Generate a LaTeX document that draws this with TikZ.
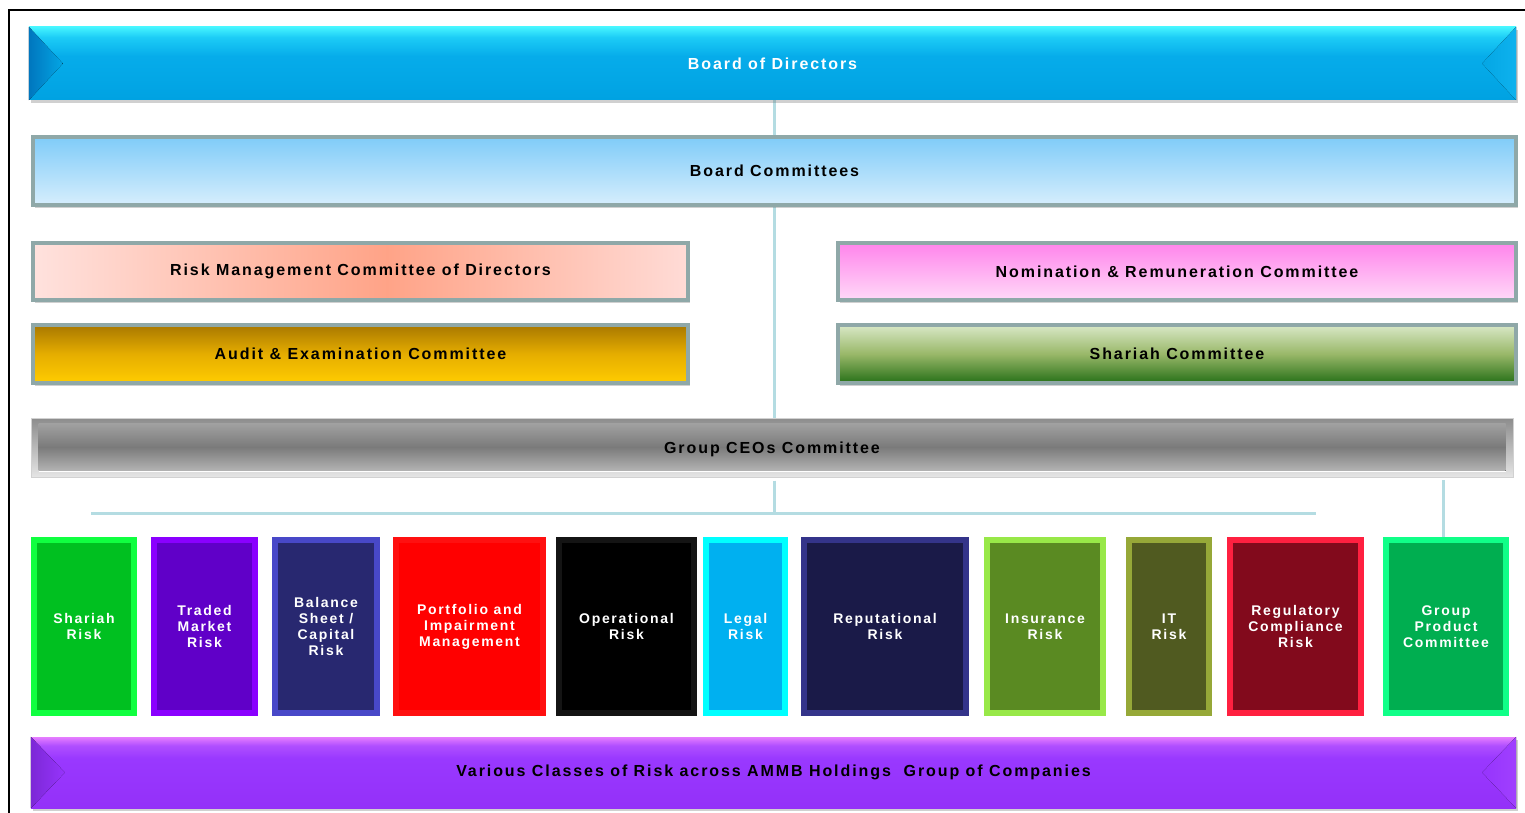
\documentclass[tikz,border=0pt]{standalone}
\usepackage{fontspec}
\setmainfont{Liberation Sans}[LetterSpace=12]
\usetikzlibrary{shadows,backgrounds,calc}

% frame and connector colours
\definecolor{linkC}{HTML}{B4DCE2}
\definecolor{edgeC}{HTML}{8FA8A8}
% risk box colours: frame / face
\definecolor{bShar}{HTML}{10FF40}\definecolor{fShar}{HTML}{00C020}
\definecolor{bTrad}{HTML}{8A00FF}\definecolor{fTrad}{HTML}{6000C8}
\definecolor{bBal}{HTML}{4848C8}\definecolor{fBal}{HTML}{282870}
\definecolor{bPort}{HTML}{FF1010}\definecolor{fPort}{HTML}{FF0000}
\definecolor{bOper}{HTML}{141414}\definecolor{fOper}{HTML}{000000}
\definecolor{bLeg}{HTML}{00FFFF}\definecolor{fLeg}{HTML}{00B0F0}
\definecolor{bRep}{HTML}{34348A}\definecolor{fRep}{HTML}{1A1A48}
\definecolor{bIns}{HTML}{98E848}\definecolor{fIns}{HTML}{5A8A22}
\definecolor{bIT}{HTML}{96A838}\definecolor{fIT}{HTML}{505A20}
\definecolor{bReg}{HTML}{FF2040}\definecolor{fReg}{HTML}{820A1C}
\definecolor{bGPC}{HTML}{10FF88}\definecolor{fGPC}{HTML}{00AE50}

% gradients (the path spans 25bp..75bp of each shading)
\pgfdeclareverticalshading{bodShade}{100bp}{
  rgb(0bp)=(0,0.635,0.886); rgb(25bp)=(0,0.635,0.886); rgb(55bp)=(0.024,0.675,0.918);
  rgb(68bp)=(0.11,0.80,0.965); rgb(75bp)=(0.27,0.957,1); rgb(100bp)=(0.27,0.957,1)}
\pgfdeclareverticalshading{bcShade}{100bp}{
  rgb(0bp)=(0.84,0.933,0.992); rgb(25bp)=(0.84,0.933,0.992);
  rgb(75bp)=(0.5,0.8,0.973); rgb(100bp)=(0.5,0.8,0.973)}
\pgfdeclarehorizontalshading{rmcShade}{100bp}{
  rgb(0bp)=(1,0.886,0.87); rgb(25bp)=(1,0.886,0.87); rgb(52bp)=(1,0.64,0.53);
  rgb(75bp)=(1,0.86,0.84); rgb(100bp)=(1,0.86,0.84)}
\pgfdeclareverticalshading{nrcShade}{100bp}{
  rgb(0bp)=(1,0.85,0.97); rgb(25bp)=(1,0.85,0.97);
  rgb(75bp)=(1,0.52,0.925); rgb(100bp)=(1,0.52,0.925)}
\pgfdeclareverticalshading{aecShade}{100bp}{
  rgb(0bp)=(1,0.8,0); rgb(25bp)=(1,0.8,0); rgb(50bp)=(0.9,0.68,0);
  rgb(75bp)=(0.66,0.47,0); rgb(100bp)=(0.66,0.47,0)}
\pgfdeclareverticalshading{shcShade}{100bp}{
  rgb(0bp)=(0.15,0.44,0.094); rgb(25bp)=(0.15,0.44,0.094); rgb(50bp)=(0.6,0.72,0.41);
  rgb(75bp)=(0.85,0.91,0.78); rgb(100bp)=(0.85,0.91,0.78)}
\pgfdeclareverticalshading{ceoOuter}{100bp}{
  rgb(0bp)=(0.9,0.9,0.9); rgb(25bp)=(0.9,0.9,0.9);
  rgb(75bp)=(0.55,0.55,0.55); rgb(100bp)=(0.55,0.55,0.55)}
\pgfdeclareverticalshading{ceoInner}{100bp}{
  rgb(0bp)=(0.7,0.7,0.7); rgb(25bp)=(0.7,0.7,0.7); rgb(50bp)=(0.48,0.48,0.48);
  rgb(75bp)=(0.63,0.63,0.63); rgb(100bp)=(0.63,0.63,0.63)}
\pgfdeclareverticalshading{baseShade}{100bp}{
  rgb(0bp)=(0.58,0.19,0.973); rgb(25bp)=(0.58,0.19,0.973); rgb(60bp)=(0.6,0.22,1);
  rgb(69bp)=(0.69,0.31,1); rgb(75bp)=(0.9,0.49,1); rgb(100bp)=(0.9,0.49,1)}

\begin{document}
\begin{tikzpicture}[x=1pt,y=-1pt,
  softshadow/.style={drop shadow={shadow xshift=1.5pt,shadow yshift=-3pt,opacity=0.3,fill=black!60}},
  bar/.style={inner sep=0pt,softshadow},
  lbl/.style={font=\bfseries\fontsize{16}{19}\selectfont},
  comm/.style={draw=edgeC,line width=4pt,inner sep=0pt,lbl,text=black,softshadow},
  riskbox/.style={line width=6pt,inner sep=0pt,minimum height=173pt,align=center,text=white,
    font=\bfseries\fontsize{14}{16}\selectfont,softshadow},
  link/.style={draw=linkC,line width=3pt}]

\useasboundingbox (0,0) rectangle (1525,813);
\begin{pgfonlayer}{background}
  \fill[white] (0,0) rectangle (1525,813);
\end{pgfonlayer}
\draw[line width=2pt] (8.5,813) -- (8.5,10) -- (1525,10);

% ---- board of directors bar ----
\node[bar,minimum width=1487pt,minimum height=73pt,shading=bodShade] (bod) at (772.5,63.5) {};
\fill[left color={rgb,255:red,0;green,118;blue,190},right color={rgb,255:red,4;green,166;blue,228}]
  (bod.north west) -- ($(bod.west)+(34,0)$) -- (bod.south west) -- cycle;
\fill[left color={rgb,255:red,4;green,166;blue,228},right color={rgb,255:red,14;green,178;blue,238}]
  (bod.north east) -- ($(bod.east)+(-34,0)$) -- (bod.south east) -- cycle;
\node[lbl,text=white] at (bod) {Board of Directors};

% ---- committees ----
\node[comm,minimum width=1483pt,minimum height=68pt,shading=bcShade] (bc) at (774.5,171) {Board Committees};

\node[comm,minimum width=655pt,minimum height=57pt,shading=rmcShade] (rmc) at (360.5,271.5)
  {Risk Management Committee of Directors};
\node[comm,minimum width=678pt,minimum height=57pt,shading=nrcShade] (nrc) at (1177,271.5)
  {Nomination \& Remuneration Committee};
\node[comm,minimum width=655pt,minimum height=58pt,shading=aecShade] (aec) at (360.5,354)
  {Audit \& Examination Committee};
\node[comm,minimum width=678pt,minimum height=58pt,shading=shcShade] (shc) at (1177,354)
  {Shariah Committee};

% ---- group CEOs committee ----
\node[inner sep=0pt,minimum width=1482pt,minimum height=59pt,draw=black!18,line width=1pt,
  shading=ceoOuter] (ceo) at (772,447.5) {};
\fill[shading=ceoInner]
  ($(ceo.north west)+(8,6)$) rectangle ($(ceo.south east)+(-8,-7)$);
\draw[white,line width=1.5pt] ($(ceo.south west)+(8,-6)$) -- ($(ceo.south east)+(-8,-6)$);
\node[lbl,text=black] at ($(ceo)+(0,2)$) {Group CEOs Committee};

% ---- risk classes ----
\node[riskbox,draw=bShar,fill=fShar,minimum width=100pt] (shar) at (84,626.5) {Shariah\\Risk};
\node[riskbox,draw=bTrad,fill=fTrad,minimum width=101pt] (trad) at (204.5,626.5) {Traded\\Market\\Risk};
\node[riskbox,draw=bBal,fill=fBal,minimum width=102pt] (bal) at (326,626.5) {Balance\\Sheet /\\Capital\\Risk};
\node[riskbox,draw=bPort,fill=fPort,minimum width=147pt] (port) at (469.5,626.5) {Portfolio and\\Impairment\\Management};
\node[riskbox,draw=bOper,fill=fOper,minimum width=135pt] (oper) at (626.5,626.5) {Operational\\Risk};
\node[riskbox,draw=bLeg,fill=fLeg,minimum width=79pt] (leg) at (745.5,626.5) {Legal\\Risk};
\node[riskbox,draw=bRep,fill=fRep,minimum width=162pt] (rep) at (885,626.5) {Reputational\\Risk};
\node[riskbox,draw=bIns,fill=fIns,minimum width=116pt] (ins) at (1045,626.5) {Insurance\\Risk};
\node[riskbox,draw=bIT,fill=fIT,minimum width=80pt] (it) at (1169,626.5) {IT\\Risk};
\node[riskbox,draw=bReg,fill=fReg,minimum width=131pt] (reg) at (1295.5,626.5) {Regulatory\\Compliance\\Risk};
\node[riskbox,draw=bGPC,fill=fGPC,minimum width=120pt] (gpc) at (1446,626.5) {Group\\Product\\Committee};

% ---- base bar ----
\node[bar,minimum width=1485pt,minimum height=71pt,shading=baseShade] (base) at (773.5,772.5) {};
\fill[left color={rgb,255:red,124;green,40;blue,214},right color={rgb,255:red,150;green,52;blue,252}]
  (base.north west) -- ($(base.west)+(34,0)$) -- (base.south west) -- cycle;
\fill[left color={rgb,255:red,150;green,52;blue,252},right color={rgb,255:red,160;green,64;blue,255}]
  (base.north east) -- ($(base.east)+(-34,0)$) -- (base.south east) -- cycle;
\node[lbl,text=black] at (base)
  {Various Classes of Risk across AMMB Holdings\ \ Group of Companies};

% ---- connectors ----
\begin{pgfonlayer}{background}
  \coordinate (busL) at (91,513);
  \coordinate (busR) at (1316,513);
  \coordinate (gpcTop) at ($(gpc.north)+(-3,0)$);
  \draw[link] (bod.south -| bc.north) -- (bc.north);
  \draw[link] (bc.south) -- (bc.south |- ceo.north);
  \draw[link] ($(ceo.south -| bc.south)+(0,3)$) -- (busL -| bc.south);
  \draw[link] (busL) -- (busR);
  \draw[link] (gpcTop) -- ($(gpcTop |- ceo.south)+(0,2)$);
\end{pgfonlayer}
\end{tikzpicture}
\end{document}
